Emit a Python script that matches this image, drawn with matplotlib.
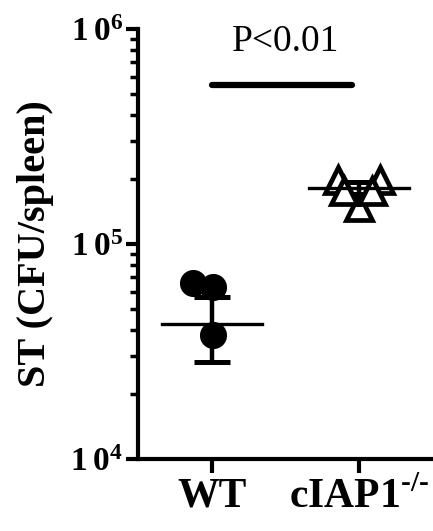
import numpy as np
import matplotlib
matplotlib.use("Agg")
from matplotlib import pyplot as plt
from matplotlib.ticker import LogLocator, NullFormatter

# data
groups = ["WT", "cIAP1"]
wt_x = [-0.13, 0.01, 0.01]
wt_cfu = [65900, 63100, 37700]
ko_x = [0.86, 1.14, 1.0, 0.90, 1.09]
ko_cfu = [198000, 198000, 149000, 176000, 176000]
means = [42400, 182000]
sds = [14000, 12000]
sig_y = 550000
p_text = "P<0.01"

plt.rcParams['font.family'] = ['Liberation Serif', 'DejaVu Serif']
plt.rcParams['mathtext.fontset'] = 'custom'
plt.rcParams['mathtext.rm'] = 'Liberation Serif'
plt.rcParams['mathtext.bf'] = 'Liberation Serif:bold'

fig = plt.figure(figsize=(4.33, 5.31), dpi=100)
ax = fig.add_axes([138/433, 1-459/531, 1-138/433, 430/531])
ax.set_yscale("log")
ax.set_ylim(1e4, 1e6)
ax.set_xlim(-0.503, 1.503)

# points
ax.plot(wt_x, wt_cfu, "o", color="black", markersize=18.5, zorder=3)
ax.plot(ko_x, ko_cfu, "^", markerfacecolor="white", markeredgecolor="black",
        markersize=19, markeredgewidth=3.4, zorder=3)

# mean and sd
for i in range(2):
    ax.plot([i-0.34, i+0.34], [means[i], means[i]], color="black", lw=2.4, zorder=4)
    ax.errorbar(i, means[i], yerr=sds[i], color="black", elinewidth=3.2,
                capsize=13, capthick=3.6, fmt="none", zorder=2)

# significance
ax.plot([0.0, 0.95], [sig_y, sig_y], color="black", lw=4.5, solid_capstyle="round")
ax.text(0.5, 870000, p_text, ha="center", va="center", fontsize=27)

for s in ["top", "right"]:
    ax.spines[s].set_visible(False)
ax.spines["left"].set_linewidth(3)
ax.spines["bottom"].set_linewidth(3)

ax.set_yticks([1e4, 1e5, 1e6])
ax.set_yticklabels([r"$\mathbf{1\,0^{4}}$", r"$\mathbf{1\,0^{5}}$", r"$\mathbf{1\,0^{6}}$"], fontsize=24)
ax.yaxis.set_minor_locator(LogLocator(base=10, subs=np.arange(2, 10)))
ax.yaxis.set_minor_formatter(NullFormatter())
ax.tick_params(axis="y", which="major", length=9, width=3, pad=2)
ax.tick_params(axis="y", which="minor", length=6, width=2.5)

ax.set_xticks([0, 1])
ax.set_xticklabels(["WT", "cIAP1$^{\\mathbf{\u2010/\u2010}}$"], fontsize=30, fontweight="bold")
ax.tick_params(axis="x", length=10, width=3, pad=3)

ax.set_ylabel("ST (CFU/spleen)", fontsize=29, fontweight="bold", labelpad=12)

fig.savefig("out.png", dpi=100)
